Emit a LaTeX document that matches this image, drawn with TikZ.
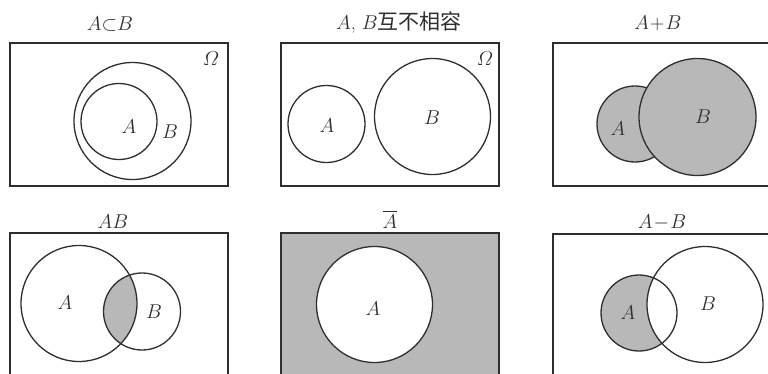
\RequirePackage{fix-cm}
\documentclass[tikz,border=0pt]{standalone}
\usepackage{amsmath}
\usepackage{fontspec}
\newfontfamily\cjk{Noto Sans CJK SC}
\definecolor{ink}{HTML}{2E2E2E}
\definecolor{vennfill}{HTML}{B8B8B8}
\begin{document}
\begin{tikzpicture}[x=1pt,y=-1pt,
  lbl/.style={anchor=base,inner sep=0pt,text=ink,font=\fontsize{20}{24}\selectfont},
  frame/.style={draw=ink,line width=1.5pt},
  ring/.style={draw=ink,line width=1.3pt}]
\useasboundingbox (0,0) rectangle (768,373);
\clip (0,0) rectangle (768,373);
% ---------- Panel 1: A subset B
\node[lbl] (t1) at (110,30) {$A\mathord{\subset}B$};
\draw[frame] (10,43) rectangle (228,186);
\draw[ring] (132.5,121) circle (58.5pt);
\draw[ring] (119,121.5) circle (38pt);
\node[lbl] (o1) at (211,65) {$\varOmega$};
\node[lbl] (a1) at (129,133) {$A$};
\node[lbl] (b1) at (170,138) {$B$};
% ---------- Panel 2: disjoint
\node[lbl] (t2) at (399,29) {$A$, $B${\cjk\fontsize{21}{24}\selectfont 互不相容}};
\draw[frame] (281,43) rectangle (499,186);
\draw[ring] (326.5,124) circle (38.5pt);
\draw[ring] (432.5,116.5) circle (58pt);
\node[lbl] (o2) at (485,65) {$\varOmega$};
\node[lbl] (a2) at (327,132) {$A$};
\node[lbl] (b2) at (432,124) {$B$};
% ---------- Panel 3: union
\node[lbl] (t3) at (658,29) {$A\!+\!B$};
\draw[frame] (553,43) rectangle (790,186);
\filldraw[ring,fill=vennfill] (635,124) circle (38pt);
\filldraw[ring,fill=vennfill] (697.5,117) circle (58.5pt);
\node[lbl] (a3) at (618,135) {$A$};
\node[lbl] (b3) at (703,123) {$B$};
% ---------- Panel 4: intersection
\node[lbl] (t4) at (113,228) {$AB$};
\draw[frame] (10,233) rectangle (228,400);
\begin{scope}
  \clip (79,303.5) circle (58pt);
  \fill[vennfill] (142,311.5) circle (38.5pt);
\end{scope}
\draw[ring] (79,303.5) circle (58pt);
\draw[ring] (142,311.5) circle (38.5pt);
\node[lbl] (a4) at (65,309) {$A$};
\node[lbl] (b4) at (154,318) {$B$};
% ---------- Panel 5: complement
\node[lbl] (t5) at (390,228) {$\overline{A}$};
\filldraw[frame,fill=vennfill] (281,233) rectangle (499,400);
\filldraw[ring,fill=white] (374.5,304.5) circle (58pt);
\node[lbl] (a5) at (373,315) {$A$};
% ---------- Panel 6: difference
\node[lbl] (t6) at (662,228) {$A\!-\!B$};
\draw[frame] (553,234) rectangle (790,400);
\fill[vennfill] (639,313) circle (38pt);
\fill[white] (705,304.5) circle (58pt);
\draw[ring] (639,313) circle (38pt);
\draw[ring] (705,304.5) circle (58pt);
\node[lbl] (a6) at (628,319) {$A$};
\node[lbl] (b6) at (708,310) {$B$};
\end{tikzpicture}
\end{document}
